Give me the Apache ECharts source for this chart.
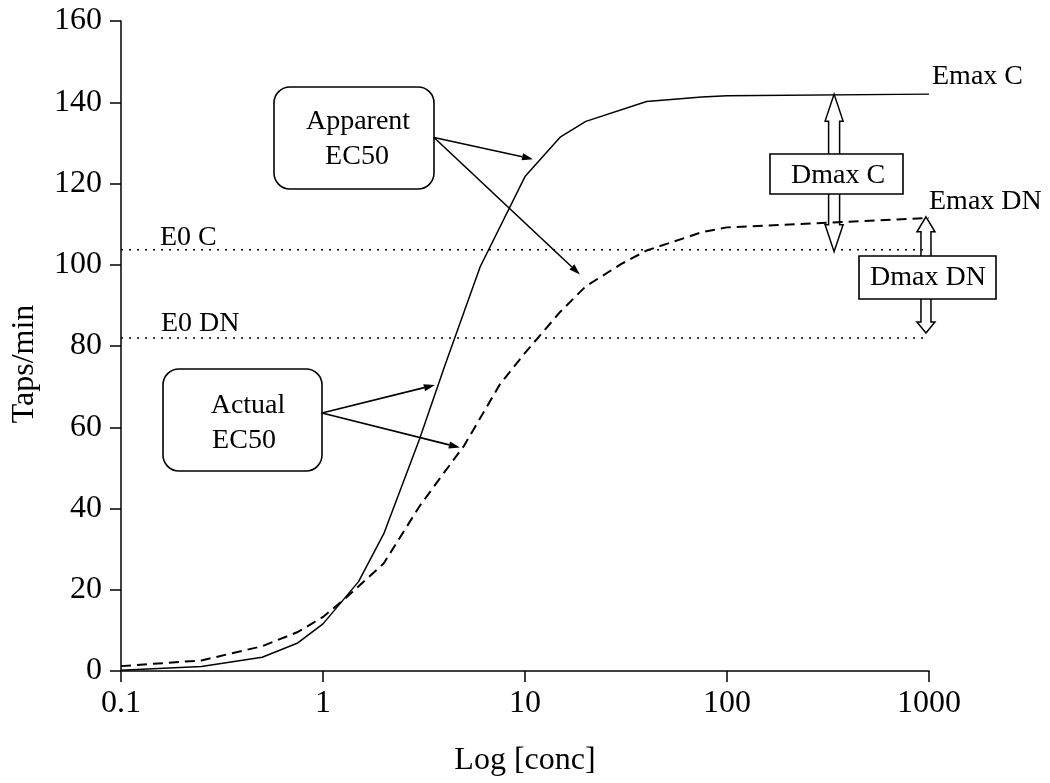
<!DOCTYPE html>
<html><head><meta charset="utf-8">
<script src="https://cdn.jsdelivr.net/npm/echarts@6/dist/echarts.min.js"></script>
<style>html,body{margin:0;padding:0;background:#fff}#c{width:1050px;height:783px}</style>
</head><body><div id="c"></div>
<script>
// ---- data ----
const concC  = [0.1, 0.25, 0.5, 0.75, 1, 1.5, 2, 3, 4, 5, 6, 10, 15, 20, 40, 75, 100, 1000];
const tapsC  = [0.2, 1.1, 3.4, 6.9, 11.6, 22, 33.8, 57, 75, 88.5, 99.5, 121.7, 131.5, 135.3, 140.2, 141.3, 141.6, 142];
const concDN = [0.1, 0.25, 0.5, 0.75, 1, 1.25, 2, 3, 4, 5, 7.5, 10, 15, 20, 30, 40, 75, 100, 1000];
const tapsDN = [1.2, 2.6, 6.1, 9.6, 13.3, 17.3, 26.5, 40.5, 49, 55.5, 70.5, 78.3, 88.5, 94.7, 100.2, 103.5, 108, 109.2, 111.5];
const e0C = 103.7, e0DN = 82;
const e0Extent = [0.1, 950];
const emaxC = 142, emaxDN = 111.8;
const dmaxCConc = 339, dmaxDNConc = 966;
const xTicks = [0.1, 1, 10, 100, 1000];
const yTicks = [0, 20, 40, 60, 80, 100, 120, 140, 160];
// callout arrow targets in data coords [conc, taps]
const apparentTargets = [[10.96, 126], [18.7, 97.6]];
const actualTargets = [[3.58, 70.4], [4.76, 55.0]];

const FONT = 'Liberation Serif';
const zip = (a, b) => a.map((v, i) => [v, b[i]]);

const chart = echarts.init(document.getElementById('c'), null, {renderer: 'canvas'});
const option = {
  animation: false,
  backgroundColor: '#fff',
  grid: {left: 121, right: 121, top: 21, bottom: 112},
  xAxis: {
    type: 'log', logBase: 10, min: xTicks[0], max: xTicks[xTicks.length - 1],
    name: 'Log [conc]', nameLocation: 'middle', nameGap: 74,
    nameTextStyle: {fontFamily: FONT, fontSize: 32, color: '#000'},
    axisLine: {lineStyle: {color: '#000', width: 1.5}},
    axisTick: {show: true, length: 11, inside: false, lineStyle: {color: '#000', width: 1.5}},
    minorTick: {show: false},
    splitLine: {show: false},
    axisLabel: {fontFamily: FONT, fontSize: 32, color: '#000', margin: 17,
      formatter: v => String(v)}
  },
  yAxis: {
    type: 'value', min: yTicks[0], max: yTicks[yTicks.length - 1], interval: 20,
    name: 'Taps/min', nameLocation: 'middle', nameGap: 80, nameRotate: 90,
    nameTextStyle: {fontFamily: FONT, fontSize: 32, color: '#000', padding: [0, 36, 0, 0]},
    axisLine: {show: true, lineStyle: {color: '#000', width: 1.5}},
    axisTick: {show: true, length: 11, lineStyle: {color: '#000', width: 1.5}},
    splitLine: {show: false},
    axisLabel: {fontFamily: FONT, fontSize: 32, color: '#000', margin: 19}
  },
  series: [
    {name: 'C', type: 'line', data: zip(concC, tapsC), symbol: 'none', z: 3,
     lineStyle: {color: '#000', width: 1.5}},
    {name: 'DN', type: 'line', data: zip(concDN, tapsDN), symbol: 'none', z: 3,
     lineStyle: {color: '#000', width: 2, type: [10, 6]}},
    {name: 'E0 C', type: 'line', data: e0Extent.map(x => [x, e0C]), symbol: 'none', z: 2,
     lineStyle: {color: '#000', width: 1.5, type: [2, 6]}},
    {name: 'E0 DN', type: 'line', data: e0Extent.map(x => [x, e0DN]), symbol: 'none', z: 2,
     lineStyle: {color: '#000', width: 1.5, type: [2, 6]}}
  ]
};
chart.setOption(option);

const px = p => chart.convertToPixel({xAxisIndex: 0, yAxisIndex: 0}, p);

function arrow(x1, y1, x2, y2) {
  const a = Math.atan2(y2 - y1, x2 - x1), L = 11, W = 3.6;
  const bx = x2 - L * Math.cos(a), by = y2 - L * Math.sin(a);
  const nx = -Math.sin(a), ny = Math.cos(a);
  return [
    {type: 'line', z: 20, shape: {x1, y1, x2: bx, y2: by}, style: {stroke: '#000', lineWidth: 1.6}},
    {type: 'polygon', z: 20, shape: {points: [[x2, y2], [bx + nx * W, by + ny * W], [bx - nx * W, by - ny * W]]},
     style: {fill: '#000'}}
  ];
}
function hollowArrow(cx, yTop, yBot, h1, h2, hw, sw) {
  return {type: 'polygon', z: 15, shape: {points: [
    [cx, yTop], [cx + hw, yTop + h1], [cx + sw, yTop + h1], [cx + sw, yBot - h2], [cx + hw, yBot - h2],
    [cx, yBot], [cx - hw, yBot - h2], [cx - sw, yBot - h2], [cx - sw, yTop + h1], [cx - hw, yTop + h1]]},
    style: {fill: null, stroke: '#000', lineWidth: 1.5}};
}
function txt(x, y, s, align) {
  return {type: 'text', z: 30, x, y, style: {text: s, fontFamily: FONT, fontSize: 28, fill: '#000',
    align: align || 'left', verticalAlign: 'middle'}};
}
function box(x, y, w, h, r) {
  return {type: 'rect', z: 18, shape: {x, y, width: w, height: h, r: r || 0},
    style: {fill: '#fff', stroke: '#000', lineWidth: 1.6}};
}

const g = [];
// callout boxes
g.push(box(274, 87, 160, 102, 16), txt(358, 122, 'Apparent', 'center'), txt(357, 157, 'EC50', 'center'));
apparentTargets.forEach(t => { const p = px(t); g.push(...arrow(434, 137.5, p[0], p[1])); });
g.push(box(163, 369, 159, 102, 16), txt(248, 406, 'Actual', 'center'), txt(244, 441, 'EC50', 'center'));
actualTargets.forEach(t => { const p = px(t); g.push(...arrow(322, 413, p[0], p[1])); });

// Dmax arrows
const dcT = px([dmaxCConc, emaxC]), dcB = px([dmaxCConc, e0C - 0.5]);
g.push(hollowArrow(dcT[0], dcT[1], dcB[1], 27, 27, 9, 5.5));
g.push(box(770, 154, 133, 40), txt(838, 176, 'Dmax C', 'center'));
const ddT = px([dmaxDNConc, emaxDN]), ddB = px([dmaxDNConc, e0DN + 1.2]);
g.push(hollowArrow(ddT[0], ddT[1], ddB[1], 15, 11, 9, 5));
g.push(box(859, 256, 137, 43), txt(928, 278, 'Dmax DN', 'center'));

// line labels
g.push(txt(160, 237.5, 'E0 C'), txt(161, 323.5, 'E0 DN'), txt(932, 77, 'Emax C'), txt(929, 202, 'Emax DN'));

chart.setOption({graphic: g});
</script>
</body></html>
